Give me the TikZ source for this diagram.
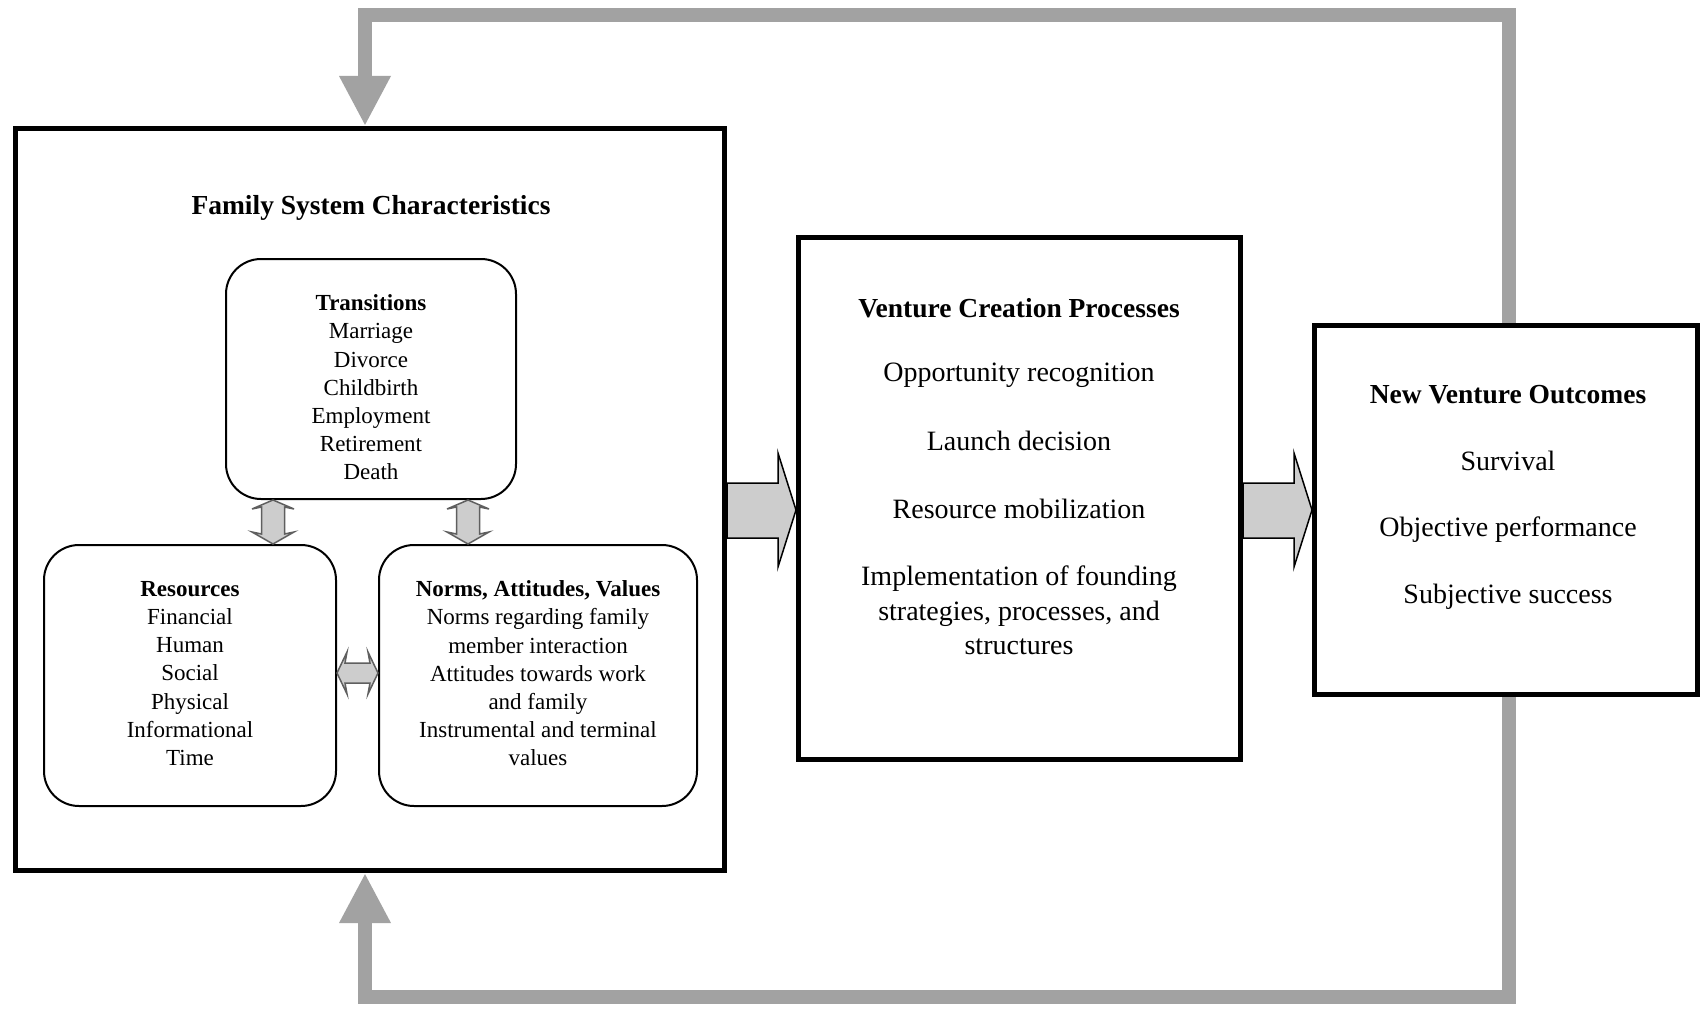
\documentclass[tikz,border=0pt]{standalone}
\usepackage{fontspec}
\setmainfont{Liberation Serif}
\usetikzlibrary{arrows.meta,calc}
\definecolor{fbgray}{RGB}{162,162,162}
\definecolor{arrfill}{RGB}{205,205,205}
\definecolor{darrline}{RGB}{95,95,95}
\begin{document}
\begin{tikzpicture}[x=1pt,y=-1pt,
  outerbox/.style={draw, line width=5pt, inner sep=0pt},
  innerbox/.style={draw, line width=2pt, rounded corners=35pt, inner sep=0pt},
  feedback/.style={draw=fbgray, line width=14pt, line join=miter,
     -{Triangle[length=50pt 0 0,width=48pt 0 0]}, fbgray},
  bigarrow/.style={draw=black, fill=arrfill, line width=1.5pt, line join=miter},
  smallarrow/.style={draw=darrline, fill=arrfill, line width=1.5pt, line join=miter},
  smalltext/.style={font=\fontsize{23}{28.2}\selectfont, align=center, inner sep=0pt},
  bigtext/.style={font=\fontsize{28}{34.5}\selectfont, align=center, inner sep=0pt},
  headtext/.style={font=\fontsize{27.5}{34}\selectfont\bfseries, align=center, inner sep=0pt}]
\useasboundingbox (0,0) rectangle (1705,1011);
\fill[white] (0,0) rectangle (1705,1011);

% main boxes
\node[outerbox, minimum width=709pt, minimum height=742pt] (fam) at (370,499.5) {};
\node[outerbox, minimum width=442pt, minimum height=522pt] (vcp) at (1019.5,498.5) {};
\node[outerbox, minimum width=383pt, minimum height=369pt] (nvo) at (1506,510) {};

% inner rounded boxes
\node[innerbox, minimum width=290pt, minimum height=240pt] (trans) at (371,379) {};
\node[innerbox, minimum width=292pt, minimum height=261pt] (res) at (190,675.5) {};
\node[innerbox, minimum width=318pt, minimum height=261pt] (norms) at (538,675.5) {};

% texts
\node[headtext] (famt) at (371,208) {Family System Characteristics};
\node[smalltext] (transt) at (371,387.5) {\textbf{Transitions}\\Marriage\\Divorce\\Childbirth\\Employment\\Retirement\\Death};
\node[smalltext] (rest) at (190,673.5) {\textbf{Resources}\\Financial\\Human\\Social\\Physical\\Informational\\Time};
\node[smalltext] (normst) at (538,673.5) {\textbf{Norms, Attitudes, Values}\\Norms regarding family\\member interaction\\Attitudes towards work\\and family\\Instrumental and terminal\\values};

\node[headtext] (vcpt) at (1019,308) {Venture Creation Processes};
\node[bigtext] (vcp1) at (1019,375) {Opportunity recognition};
\node[bigtext] (vcp2) at (1019,441) {Launch decision};
\node[bigtext] (vcp3) at (1019,509) {Resource mobilization};
\node[bigtext] (vcp4) at (1019,610.5) {Implementation of founding\\strategies, processes, and\\structures};

\node[headtext] (nvot) at (1508,395) {New Venture Outcomes};
\node[bigtext] (nvo1) at (1508,461) {Survival};
\node[bigtext] (nvo2) at (1508,530) {Objective performance};
\node[bigtext] (nvo3) at (1508,597) {Subjective success};

% big arrows
\draw[bigarrow] (fam.east |- 0,483) -- (778,483) -- (778,453) -- (vcp.west |- 0,510)
   -- (778,567) -- (778,538) -- (fam.east |- 0,538) -- cycle;
\draw[bigarrow] (vcp.east |- 0,483) -- (1294,483) -- (1294,453) -- (nvo.west |- 0,510)
   -- (1294,567) -- (1294,538) -- (vcp.east |- 0,538) -- cycle;

% small double arrows
\draw[smallarrow] (trans.south -| 273,0) -- (294,509) -- (284.5,507) -- (284.5,534) -- (294,532)
   -- (res.north -| 273,0) -- (252,532) -- (261.5,534) -- (261.5,507) -- (252,509) -- cycle;
\draw[smallarrow] (trans.south -| 468,0) -- (489,509) -- (479.5,507) -- (479.5,534) -- (489,532)
   -- (norms.north -| 468,0) -- (447,532) -- (456.5,534) -- (456.5,507) -- (447,509) -- cycle;
\draw[smallarrow] (res.east |- 0,673) -- (347,652) -- (345,663) -- (370,663) -- (368,652)
   -- (norms.west |- 0,673) -- (368,694) -- (370,683) -- (345,683) -- (347,694) -- cycle;

% feedback loops
\draw[feedback] (nvo.north -| 1509,0) -- (1509,15) -- (365,15) -- (fam.north -| 365,0);
\draw[feedback] (nvo.south -| 1509,0) -- (1509,997) -- (365,997) -- (fam.south -| 365,0);
\end{tikzpicture}
\end{document}
